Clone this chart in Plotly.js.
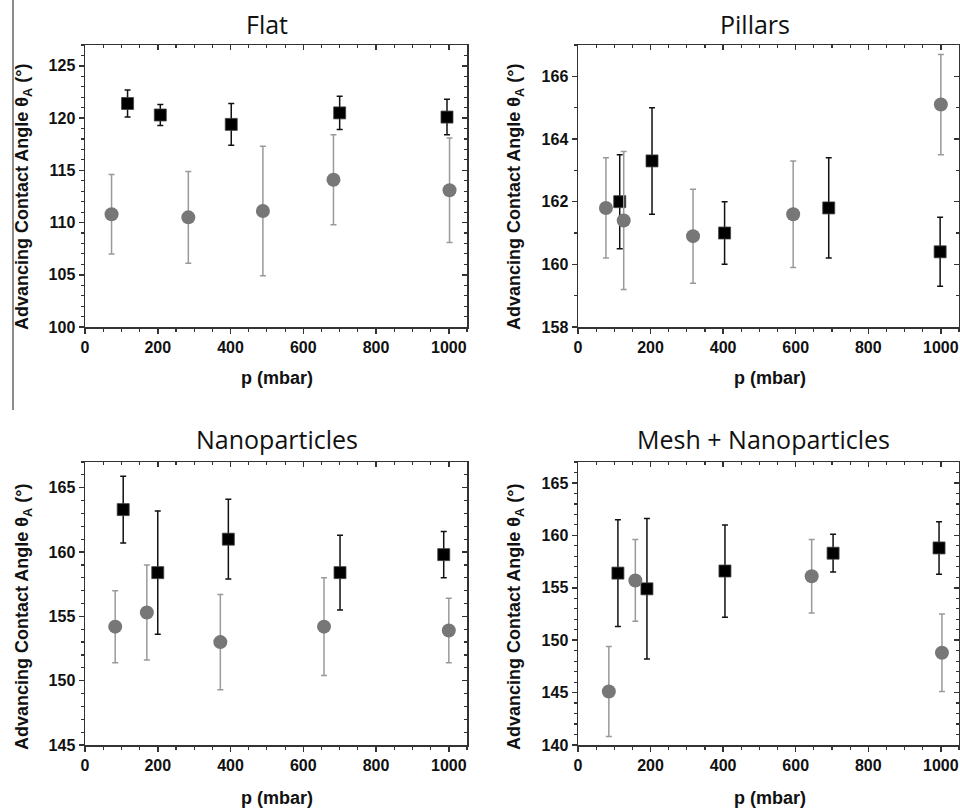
<!DOCTYPE html>
<html>
<head>
<meta charset="utf-8">
<script src="https://cdn.plot.ly/plotly-3.0.1.min.js"></script>
<style>html,body{margin:0;padding:0;background:#fff;}#chart{width:960px;height:810px;}</style>
</head>
<body>
<div id="chart"></div>
<script>
// ---------- data ----------
const panelTitles = ["Flat", "Pillars", "Nanoparticles", "Mesh + Nanoparticles"];
const xTitle = "p (mbar)";
const yTitle = "Advancing Contact Angle θ<sub>A</sub> (°)";

const flatSqX = [117, 207, 402, 700, 995];
const flatSqY = [121.4, 120.3, 119.4, 120.5, 120.1];
const flatSqErr = [1.3, 1.0, 2.0, 1.6, 1.7];
const flatCiX = [73, 284, 489, 683, 1002];
const flatCiY = [110.8, 110.5, 111.1, 114.1, 113.1];
const flatCiErr = [3.8, 4.4, 6.2, 4.3, 5.0];

const pillarsSqX = [115, 204, 404, 691, 998];
const pillarsSqY = [162.0, 163.3, 161.0, 161.8, 160.4];
const pillarsSqErr = [1.5, 1.7, 1.0, 1.6, 1.1];
const pillarsCiX = [77, 126, 317, 593, 1000];
const pillarsCiY = [161.8, 161.4, 160.9, 161.6, 165.1];
const pillarsCiErr = [1.6, 2.2, 1.5, 1.7, 1.6];

const nanoSqX = [105, 200, 394, 701, 986];
const nanoSqY = [163.3, 158.4, 161.0, 158.4, 159.8];
const nanoSqErr = [2.6, 4.8, 3.1, 2.9, 1.8];
const nanoCiX = [83, 170, 372, 657, 1000];
const nanoCiY = [154.2, 155.3, 153.0, 154.2, 153.9];
const nanoCiErr = [2.8, 3.7, 3.7, 3.8, 2.5];

const meshSqX = [110, 190, 405, 703, 995];
const meshSqY = [156.4, 154.9, 156.6, 158.3, 158.8];
const meshSqErr = [5.1, 6.7, 4.4, 1.8, 2.5];
const meshCiX = [85, 158, 644, 1003];
const meshCiY = [145.1, 155.7, 156.1, 148.8];
const meshCiErr = [4.3, 3.9, 3.5, 3.7];

const xRange = [0, 1050];
const yRanges = [[100, 127], [158, 167], [145, 167], [140, 167]];
const yMajor = [5, 2, 5, 5];
const yMinor = [1, 1, 1, 1];

// ---------- layout helpers ----------
const W = 960, H = 810;
const px = v => v / W;
const py = v => 1 - v / H;
const xDoms = [[px(85), px(467)], [px(578), px(959)]];
const yDoms = [[py(327), py(45)], [py(745), py(462)]];

const sqSets = [[flatSqX, flatSqY, flatSqErr], [pillarsSqX, pillarsSqY, pillarsSqErr], [nanoSqX, nanoSqY, nanoSqErr], [meshSqX, meshSqY, meshSqErr]];
const ciSets = [[flatCiX, flatCiY, flatCiErr], [pillarsCiX, pillarsCiY, pillarsCiErr], [nanoCiX, nanoCiY, nanoCiErr], [meshCiX, meshCiY, meshCiErr]];

const tickFont = {family: "Liberation Sans, Arial, sans-serif", size: 16, color: "#111", weight: "bold"};
const lineCol = "#333";

const data = [];
const layout = {
  width: W, height: H,
  margin: {l: 0, r: 0, t: 0, b: 0},
  paper_bgcolor: "#fff", plot_bgcolor: "#fff",
  showlegend: false,
  annotations: [],
  shapes: [{type: "line", xref: "paper", yref: "paper", x0: px(13), x1: px(13), y0: py(0), y1: py(410), line: {color: "#666", width: 1.5}}]
};

for (let i = 0; i < 4; i++) {
  const col = i % 2, row = Math.floor(i / 2);
  const n = i + 1, on = i + 5;
  const xa = n === 1 ? "x" : "x" + n, ya = n === 1 ? "y" : "y" + n;
  const xo = "x" + on, yo = "y" + on;
  const xk = n === 1 ? "xaxis" : "xaxis" + n, yk = n === 1 ? "yaxis" : "yaxis" + n;

  layout[xk] = {domain: xDoms[col], anchor: ya, range: xRange, dtick: 200, tick0: 0,
    ticks: "outside", ticklen: 5, tickwidth: 1.5, tickcolor: lineCol,
    minor: {dtick: 50, ticks: "outside", ticklen: 3, tickwidth: 1.2, tickcolor: lineCol},
    showline: true, linecolor: lineCol, linewidth: 1.5, showgrid: false, zeroline: false,
    tickfont: tickFont, fixedrange: true};
  layout[yk] = {domain: yDoms[row], anchor: xa, range: yRanges[i], dtick: yMajor[i], tick0: 0,
    ticks: "outside", ticklen: 5, tickwidth: 1.5, tickcolor: lineCol,
    minor: {dtick: yMinor[i], ticks: "outside", ticklen: 3, tickwidth: 1.2, tickcolor: lineCol},
    showline: true, linecolor: lineCol, linewidth: 1.5, showgrid: false, zeroline: false,
    tickfont: tickFont, fixedrange: true};
  // mirrored axes with inward ticks (top & right)
  layout["xaxis" + on] = {overlaying: xa, side: "top", anchor: yo, range: xRange, dtick: 200, tick0: 0,
    ticks: "inside", ticklen: 5, tickwidth: 1.5, tickcolor: lineCol,
    minor: {dtick: 50, ticks: "inside", ticklen: 3, tickwidth: 1.2, tickcolor: lineCol},
    showline: true, linecolor: lineCol, linewidth: 1.5, showgrid: false, zeroline: false,
    showticklabels: false, fixedrange: true};
  layout["yaxis" + on] = {overlaying: ya, side: "right", anchor: xo, range: yRanges[i], dtick: yMajor[i], tick0: 0,
    ticks: "inside", ticklen: 5, tickwidth: 1.5, tickcolor: lineCol,
    minor: {dtick: yMinor[i], ticks: "inside", ticklen: 3, tickwidth: 1.2, tickcolor: lineCol},
    showline: true, linecolor: lineCol, linewidth: 1.5, showgrid: false, zeroline: false,
    showticklabels: false, fixedrange: true};

  data.push({x: [], y: [], type: "scatter", mode: "markers", xaxis: xo, yaxis: yo, hoverinfo: "skip"});

  const [sx, sy, se] = sqSets[i];
  data.push({x: sx, y: sy, type: "scatter", mode: "markers", xaxis: xa, yaxis: ya,
    marker: {symbol: "square", size: 12, color: "#000", line: {color: "#444", width: 0.8}},
    error_y: {type: "data", array: se, visible: true, color: "#111", thickness: 1.5, width: 3}});
  const [cx, cy, ce] = ciSets[i];
  data.push({x: cx, y: cy, type: "scatter", mode: "markers", xaxis: xa, yaxis: ya,
    marker: {symbol: "circle", size: 14, color: "#777", line: {width: 0}},
    error_y: {type: "data", array: ce, visible: true, color: "#9a9a9a", thickness: 1.5, width: 3}});

  // titles
  const titleX = [[267, 755], [277, 763]][row][col];
  const titleY = [24, 439][row];
  layout.annotations.push({text: panelTitles[i], xref: "paper", yref: "paper", x: px(titleX), y: py(titleY),
    xanchor: "center", yanchor: "middle", showarrow: false,
    font: {family: "Open Sans, Noto Sans, sans-serif", size: 25, color: "#111"}});
  const xtX = [277, 770][col];
  const xtY = [378, 798][row];
  layout.annotations.push({text: xTitle, xref: "paper", yref: "paper", x: px(xtX), y: py(xtY),
    xanchor: "center", yanchor: "middle", showarrow: false,
    font: {family: "Liberation Sans, Arial, sans-serif", size: 18, color: "#111", weight: "bold"}});
  const ytX = [23, 515][col];
  const ytY = [197, 617][row];
  layout.annotations.push({text: yTitle, xref: "paper", yref: "paper", x: px(ytX), y: py(ytY),
    xanchor: "center", yanchor: "middle", textangle: -90, showarrow: false,
    font: {family: "Liberation Sans, Arial, sans-serif", size: 18, color: "#111", weight: "bold"}});
}

Plotly.newPlot("chart", data, layout, {displayModeBar: false, staticPlot: true});
</script>
</body>
</html>
